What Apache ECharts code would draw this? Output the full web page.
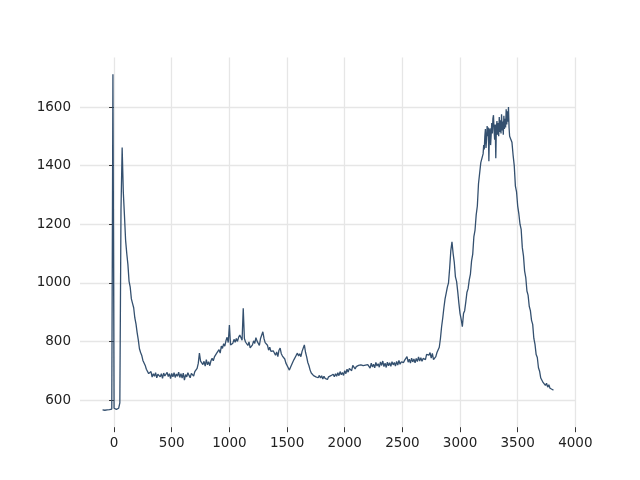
<!DOCTYPE html>
<html>
<head>
<meta charset="utf-8">
<script src="https://cdn.jsdelivr.net/npm/echarts@6/dist/echarts.min.js"></script>
<style>
html,body{margin:0;padding:0;background:#fff;}
#chart{width:640px;height:480px;}
</style>
</head>
<body>
<div id="chart"></div>
<script>
const xTicks = [0, 500, 1000, 1500, 2000, 2500, 3000, 3500, 4000];
const yTicks = [600, 800, 1000, 1200, 1400, 1600];

const xValues = [
-100,-90,-80,-70,-60,-50,-40,-30,-20,-10,0,10,20,30,40,50,60,70,80,90,
100,110,120,130,140,150,160,170,180,190,200,210,220,230,240,250,260,270,280,290,
300,310,320,330,340,350,360,370,380,390,400,410,420,430,440,450,460,470,480,490,
500,510,520,530,540,550,560,570,580,590,600,610,620,630,640,650,660,670,680,690,
700,710,720,730,740,750,760,770,780,790,800,810,820,830,840,850,860,870,880,890,
900,910,920,930,940,950,960,970,980,990,1000,1010,1020,1030,1040,1050,1060,1070,1080,1090,
1100,1110,1120,1130,1140,1150,1160,1170,1180,1190,1200,1210,1220,1230,1240,1250,1260,1270,1280,1290,
1300,1310,1320,1330,1340,1350,1360,1370,1380,1390,1400,1410,1420,1430,1440,1450,1460,1470,1480,1490,
1500,1510,1520,1530,1540,1550,1560,1570,1580,1590,1600,1610,1620,1630,1640,1650,1660,1670,1680,1690,
1700,1710,1720,1730,1740,1750,1760,1770,1780,1790,1800,1810,1820,1830,1840,1850,1860,1870,1880,1890,
1900,1910,1920,1930,1940,1950,1960,1970,1980,1990,2000,2010,2020,2030,2040,2050,2060,2070,2080,2090,
2100,2110,2120,2130,2140,2150,2160,2170,2180,2190,2200,2210,2220,2230,2240,2250,2260,2270,2280,2290,
2300,2310,2320,2330,2340,2350,2360,2370,2380,2390,2400,2410,2420,2430,2440,2450,2460,2470,2480,2490,
2500,2510,2520,2530,2540,2550,2560,2570,2580,2590,2600,2610,2620,2630,2640,2650,2660,2670,2680,2690,
2700,2710,2720,2730,2740,2750,2760,2770,2780,2790,2800,2810,2820,2830,2840,2850,2860,2870,2880,2890,
2900,2910,2920,2930,2940,2950,2960,2970,2980,2990,3000,3010,3020,3030,3040,3050,3060,3070,3080,3090,
3100,3110,3120,3130,3140,3150,3160,3170,3180,3190,
3200,3205,3210,3215,3220,3225,3230,3235,3240,3245,3250,3255,3260,3265,3270,3275,3280,3285,3290,3295,
3300,3305,3310,3315,3320,3325,3330,3335,3340,3345,3350,3355,3360,3365,3370,3375,3380,3385,3390,3395,
3400,3405,3410,3415,3420,3425,3430,3440,3450,3460,3470,3480,3490,
3500,3510,3520,3530,3540,3550,3560,3570,3580,3590,3600,3610,3620,3630,3640,3650,3660,3670,3680,3690,
3700,3710,3720,3730,3740,3750,3760,3770,3780,3790,3800,3810
];

const yValues = [
566,567,565,567,566,568,567,568,569,1712,572,570,568,571,572,590,1250,1462,1310,1230,
1145,1100,1062,1005,985,945,930,915,880,860,830,805,775,762,752,735,730,718,705,700,
690,684,697,678,690,681,693,676,688,694,679,690,674,692,682,677,694,680,690,673,
691,679,693,677,689,681,695,677,690,675,692,668,687,679,693,684,676,691,695,682,
697,701,708,725,760,733,729,721,732,716,738,720,731,717,734,742,734,747,748,760,
762,772,760,784,776,792,784,802,814,796,856,788,790,794,807,797,810,800,814,822,
813,804,913,810,798,794,786,798,778,779,788,802,793,813,801,797,786,810,813,833,
810,796,798,787,770,780,766,767,768,762,753,764,748,770,777,758,750,750,740,726,
722,710,702,712,718,730,738,744,753,760,750,758,748,766,760,788,763,747,728,717,
702,692,690,683,682,679,680,676,684,675,683,672,681,674,678,670,679,673,683,677,
688,679,690,681,693,683,697,686,694,684,700,690,705,695,708,713,700,718,712,706,
714,712,718,714,720,716,717,711,719,715,721,718,709,726,713,722,710,728,716,724,
712,730,718,733,714,726,711,729,717,727,715,731,720,728,716,732,719,735,722,730,
733,728,736,731,748,729,739,726,743,730,740,727,742,731,747,733,744,732,742,742,
738,756,752,753,762,743,759,738,737,748,762,768,780,810,850,880,915,945,965,985,
1000,1050,1110,1140,1100,1070,1020,1005,970,930,895,875,850,895,905,935,968,980,1010,1030,
1075,1098,1158,1180,1232,1262,1338,1335,1410,1415,
1440,1470,1455,1500,1525,1460,1490,1535,1500,1530,1415,1520,1527,1470,1505,1545,1510,1560,1572,1520,
1488,1540,1425,1530,1552,1505,1545,1500,1566,1515,1555,1510,1575,1520,1550,1505,1570,1525,1560,1530,
1592,1540,1585,1550,1600,1530,1500,1490,1480,1436,1400,1330,1310,
1262,1235,1200,1182,1120,1092,1040,1018,972,958,920,905,872,858,810,790,755,745,710,698,
675,674,660,662,650,657,644,652,640,646,636,634
];

const seriesData = xValues.map((x, i) => [x, yValues[i]]);

const chart = echarts.init(document.getElementById('chart'), null, {renderer: 'canvas'});
const labelFont = {fontFamily: 'DejaVu Sans', fontSize: 13.5, color: '#222', formatter: v => String(v)};
chart.setOption({
  animation: false,
  backgroundColor: '#ffffff',
  grid: {left: 80, right: 64, top: 57.6, bottom: 52.8, containLabel: false},
  xAxis: {
    type: 'value',
    min: -295.5,
    max: 4005.5,
    axisLine: {show: false},
    axisTick: {show: true, customValues: xTicks, length: 5, lineStyle: {color: '#333', width: 1}},
    axisLabel: Object.assign({customValues: xTicks, margin: 9}, labelFont),
    splitLine: {show: true, lineStyle: {color: '#e6e6e6', width: 1.3}}
  },
  yAxis: {
    type: 'value',
    min: 507.2,
    max: 1768.6,
    axisLine: {show: false},
    axisTick: {show: true, customValues: yTicks, length: 5, lineStyle: {color: '#333', width: 1}},
    axisLabel: Object.assign({customValues: yTicks, margin: 9}, labelFont),
    splitLine: {show: true, lineStyle: {color: '#e6e6e6', width: 1.3}}
  },
  series: [{
    type: 'line',
    data: seriesData,
    showSymbol: false,
    symbol: 'none',
    sampling: null,
    lineStyle: {color: '#34506f', width: 1.3},
    z: 3
  }]
});
</script>
</body>
</html>
